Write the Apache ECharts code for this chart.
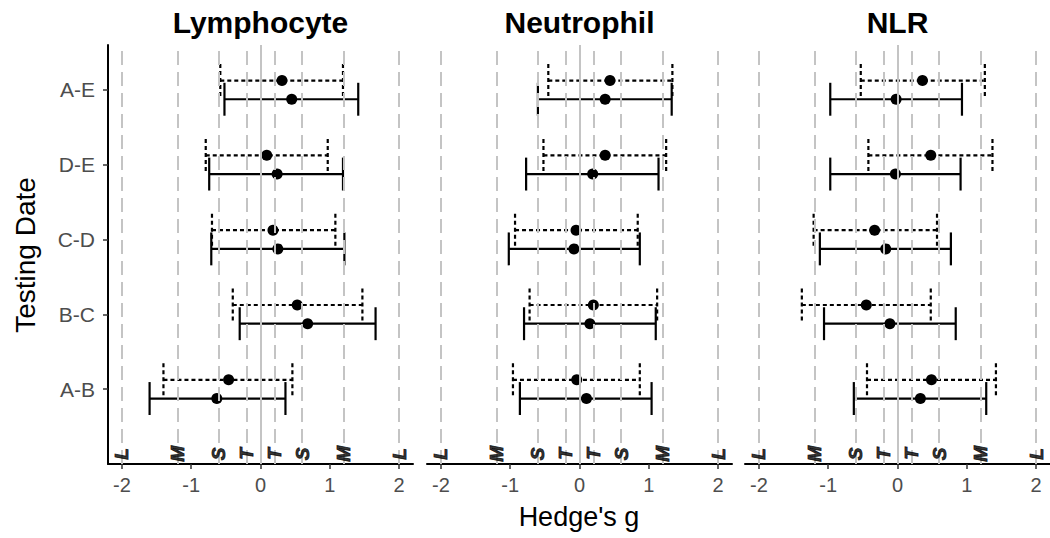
<!DOCTYPE html>
<html>
<head>
<meta charset="utf-8">
<script src="https://cdn.jsdelivr.net/npm/echarts@6/dist/echarts.min.js"></script>
<style>
html,body{margin:0;padding:0;background:#fff;}
#chart{width:1050px;height:538px;}
</style>
</head>
<body>
<div id="chart"></div>
<script>
// ---- data ----
const categories = ['A-B', 'B-C', 'C-D', 'D-E', 'A-E'];
const panelTitles = ['Lymphocyte', 'Neutrophil', 'NLR'];
const xTicks = [-2, -1, 0, 1, 2];
const thresholdValues = [-2, -1.2, -0.6, -0.2, 0.2, 0.6, 1.2, 2];
const thresholdLabels = ['L', 'M', 'S', 'T', 'T', 'S', 'M', 'L'];

// [estimate, lower, upper] per category (A-B .. A-E)
const lymphocyteSolid = [[-0.63, -1.60, 0.36], [0.68, -0.30, 1.66], [0.25, -0.71, 1.21], [0.24, -0.74, 1.19], [0.45, -0.52, 1.41]];
const lymphocyteDotted = [[-0.46, -1.40, 0.46], [0.53, -0.40, 1.47], [0.18, -0.70, 1.08], [0.09, -0.79, 0.97], [0.31, -0.58, 1.19]];
const neutrophilSolid = [[0.10, -0.86, 1.04], [0.15, -0.80, 1.10], [-0.08, -1.02, 0.87], [0.19, -0.77, 1.14], [0.37, -0.60, 1.33]];
const neutrophilDotted = [[-0.04, -0.96, 0.87], [0.20, -0.72, 1.12], [-0.05, -0.93, 0.84], [0.37, -0.52, 1.25], [0.44, -0.45, 1.34]];
const nlrSolid = [[0.33, -0.63, 1.28], [-0.11, -1.06, 0.84], [-0.17, -1.12, 0.77], [-0.03, -0.97, 0.91], [-0.02, -0.97, 0.93]];
const nlrDotted = [[0.49, -0.44, 1.42], [-0.45, -1.38, 0.48], [-0.33, -1.21, 0.57], [0.48, -0.42, 1.37], [0.36, -0.53, 1.26]];

const panelSolid = [lymphocyteSolid, neutrophilSolid, nlrSolid];
const panelDotted = [lymphocyteDotted, neutrophilDotted, nlrDotted];

// ---- layout ----
const gridLefts = [108, 427, 745];
const gridWidth = 305;
const gridTop = 45;
const gridHeight = 419;
const DODGE = 0.125;
const CAP = 0.22;
const FONT = '"Liberation Sans", Arial, Helvetica, sans-serif';

const chart = echarts.init(document.getElementById('chart'), null, {renderer: 'svg'});

const grids = [], xAxes = [], yAxes = [], series = [], graphics = [];

function errorBarRender(params, api) {
  const lo = api.value(0), hi = api.value(1), y = api.value(2), dashed = api.value(3);
  const a = api.coord([lo, y]);
  const b = api.coord([hi, y]);
  const h = api.size([0, CAP])[1];
  const style = dashed ? {stroke: '#000', lineWidth: 2.2, lineDash: [4, 3]} : {stroke: '#000', lineWidth: 2.2};
  return {
    type: 'group',
    children: [
      {type: 'line', shape: {x1: a[0], y1: a[1], x2: b[0], y2: b[1]}, style: style},
      {type: 'line', shape: {x1: a[0], y1: a[1] - h, x2: a[0], y2: a[1] + h}, style: style},
      {type: 'line', shape: {x1: b[0], y1: b[1] - h, x2: b[0], y2: b[1] + h}, style: style}
    ]
  };
}

for (let p = 0; p < 3; p++) {
  grids.push({left: gridLefts[p], top: gridTop, width: gridWidth, height: gridHeight, containLabel: false});
  xAxes.push({
    type: 'value', gridIndex: p, min: -2.2, max: 2.2,
    axisLine: {show: true, onZero: false, lineStyle: {color: '#000', width: 2}},
    axisTick: {show: true, customValues: xTicks, length: 5, lineStyle: {color: '#333', width: 1.5}},
    axisLabel: {show: true, customValues: xTicks, color: '#4d4d4d', fontSize: 20, fontFamily: FONT, margin: 11},
    splitLine: {show: false}
  });
  yAxes.push({
    type: 'value', gridIndex: p, min: 0, max: 5.6,
    axisLine: {show: p === 0, onZero: false, lineStyle: {color: '#000', width: 2}},
    axisTick: {show: p === 0, customValues: [1, 2, 3, 4, 5], length: 5, lineStyle: {color: '#333', width: 1.5}},
    axisLabel: {
      show: p === 0, customValues: [1, 2, 3, 4, 5], color: '#4d4d4d', fontSize: 21, fontFamily: FONT, margin: 13,
      formatter: function (v) { const i = Math.round(v) - 1; return categories[i] || ''; }
    },
    splitLine: {show: false}
  });

  // reference lines
  const refLines = thresholdValues.map(v => ({xAxis: v, lineStyle: {type: [14, 7], color: '#c4c4c4', width: 2}}));
  refLines.push({xAxis: 0, lineStyle: {type: 'solid', color: '#c4c4c4', width: 2}});
  series.push({
    type: 'line', xAxisIndex: p, yAxisIndex: p, data: [], silent: true, z: 1,
    markLine: {silent: true, symbol: 'none', label: {show: false}, animation: false, data: refLines}
  });

  // error bars
  const ebData = [];
  for (let i = 0; i < categories.length; i++) {
    const d = panelDotted[p][i], s = panelSolid[p][i];
    ebData.push([d[1], d[2], i + 1 + DODGE, 1]);
    ebData.push([s[1], s[2], i + 1 - DODGE, 0]);
  }
  series.push({
    type: 'custom', xAxisIndex: p, yAxisIndex: p, renderItem: errorBarRender,
    data: ebData, encode: {x: [0, 1], y: 2}, z: 3, silent: true, animation: false
  });

  // points
  const ptData = [];
  for (let i = 0; i < categories.length; i++) {
    ptData.push([panelDotted[p][i][0], i + 1 + DODGE]);
    ptData.push([panelSolid[p][i][0], i + 1 - DODGE]);
  }
  series.push({
    type: 'scatter', xAxisIndex: p, yAxisIndex: p, data: ptData, symbol: 'circle', symbolSize: 11,
    itemStyle: {color: '#000', opacity: 1}, z: 4, silent: true, animation: false
  });

  // threshold letters
  series.push({
    type: 'scatter', xAxisIndex: p, yAxisIndex: p, symbolSize: 0, z: 5, silent: true, animation: false,
    data: thresholdValues.map((v, k) => ({value: [v, 0.135], name: thresholdLabels[k]})),
    label: {
      show: true, position: 'inside', rotate: 90, formatter: '{b}', color: '#000',
      fontSize: 19, fontWeight: 'bold', fontStyle: 'italic', fontFamily: FONT,
      textBorderColor: '#000', textBorderWidth: 0.9
    }
  });

  graphics.push({
    type: 'text', x: gridLefts[p] + gridWidth / 2, y: 22,
    style: {text: panelTitles[p], fill: '#000', font: 'bold 30px ' + FONT, textAlign: 'center', textVerticalAlign: 'middle'}
  });
}

graphics.push({
  type: 'text', x: 579, y: 517,
  style: {text: "Hedge's g", fill: '#000', font: '27px ' + FONT, textAlign: 'center', textVerticalAlign: 'middle'}
});
graphics.push({
  type: 'text', x: 25, y: 255, rotation: Math.PI / 2,
  style: {text: 'Testing Date', fill: '#000', font: '28px ' + FONT, textAlign: 'center', textVerticalAlign: 'middle'}
});

chart.setOption({
  animation: false,
  backgroundColor: '#fff',
  grid: grids,
  xAxis: xAxes,
  yAxis: yAxes,
  series: series,
  graphic: graphics
});
</script>
</body>
</html>
